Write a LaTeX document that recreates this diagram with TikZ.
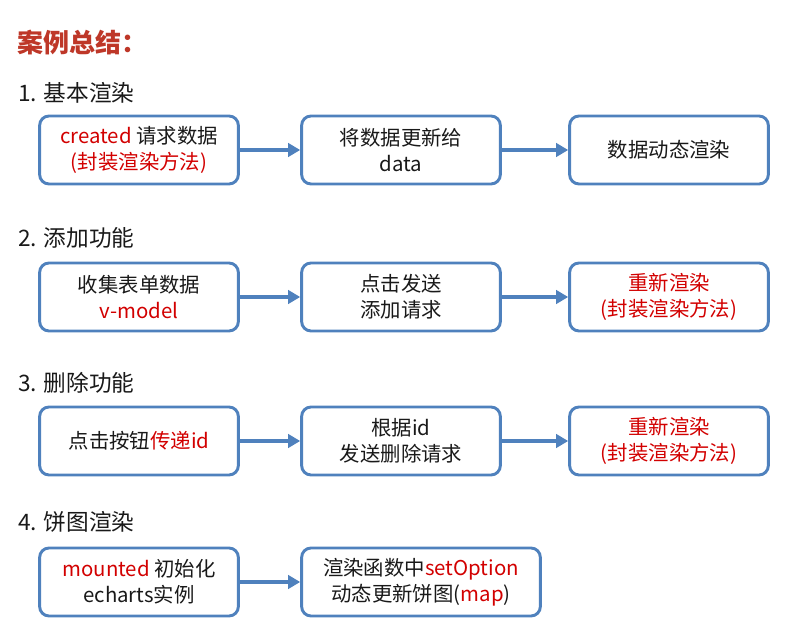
\documentclass[tikz,border=0pt]{standalone}
\usepackage{fontspec}
\setmainfont{Noto Sans CJK SC}
\usetikzlibrary{arrows.meta}
\definecolor{boxblue}{RGB}{79,129,189}
\definecolor{hired}{RGB}{210,0,0}
\definecolor{titlered}{RGB}{190,55,40}
\definecolor{ink}{RGB}{25,25,25}
\newcommand{\hl}[1]{\textcolor{hired}{#1}}
\begin{document}
\begin{tikzpicture}[x=0.75pt, y=-0.75pt, text=ink,
  font=\fontsize{15.3}{19.5}\selectfont,
  stepbox/.style={draw=boxblue, line width=2.2pt, rounded corners=7pt,
    minimum width=149pt, minimum height=51pt, align=center, inner sep=0pt},
  flow/.style={draw=boxblue, line width=3.2pt, -{Triangle[length=9pt,width=10pt]}},
  head/.style={anchor=west, inner sep=0pt, font=\fontsize{17}{20}\selectfont}]
  \useasboundingbox (0,0) rectangle (797,641);
  % title
  \node[anchor=west, inner sep=0pt, text=titlered, font=\fontsize{19.5}{22}\selectfont\bfseries] (title) at (17,42) {案例总结：};
  % section heads
  \foreach \y/\name/\txt in {93/h1/1. 基本渲染, 238/h2/2. 添加功能, 383/h3/3. 删除功能, 522/h4/4. 饼图渲染}
    \node[head] (\name) at (18,\y) {\txt};
  % 1. basic render
  \node[stepbox] (a1) at (139,150) {\hl{created} 请求数据\\\hl{(封装渲染方法)}};
  \node[stepbox] (b1) at (401,150) {将数据更新给\\data};
  \node[stepbox] (c1) at (669,150) {数据动态渲染};
  % 2. add
  \node[stepbox] (a2) at (139,297) {收集表单数据\\\hl{v-model}};
  \node[stepbox] (b2) at (401,297) {点击发送\\添加请求};
  \node[stepbox] (c2) at (669,297) {\hl{重新渲染}\\\hl{(封装渲染方法)}};
  % 3. delete
  \node[stepbox] (a3) at (139,441) {点击按钮\hl{传递id}};
  \node[stepbox] (b3) at (401,441) {根据id\\发送删除请求};
  \node[stepbox] (c3) at (669,441) {\hl{重新渲染}\\\hl{(封装渲染方法)}};
  % 4. pie chart
  \node[stepbox] (a4) at (139,582) {\hl{mounted} 初始化\\echarts实例};
  \node[stepbox, minimum width=179pt] (b4) at (421,582) {渲染函数中\hl{setOption}\\动态更新饼图(\hl{map})};
  % arrows
  \foreach \i in {1,2,3} {
    \draw[flow] (a\i) -- (b\i);
    \draw[flow] (b\i) -- (c\i);
  }
  \draw[flow] (a4) -- (b4);
\end{tikzpicture}
\end{document}
